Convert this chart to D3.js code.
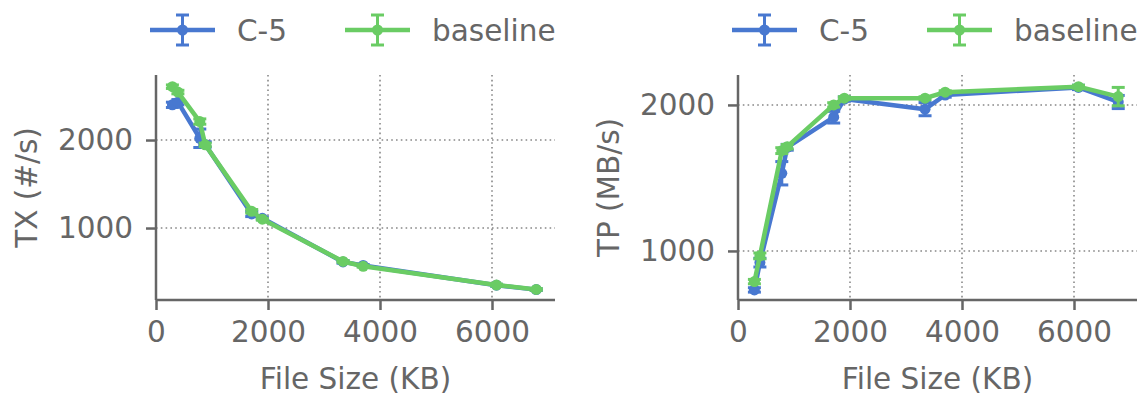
<!DOCTYPE html>
<html>
<head>
<meta charset="utf-8">
<script src="https://cdn.jsdelivr.net/npm/d3@7"></script>
<style>
  body { margin: 0; background: #fff; }
  svg text { font-family: "DejaVu Sans", sans-serif; fill: #666; }
</style>
</head>
<body>
<svg id="chart" width="1142" height="395"></svg>
<script>
// file sizes (KB)
const fileSizes = [293, 391, 782, 879, 1709, 1899, 3340, 3700, 6080, 6790];

const txC5 = [2400, 2430, 2020, 1950, 1160, 1110, 615, 575, 350, 300];
const txC5Err = [30, 30, 105, 30, 30, 15, 15, 10, 10, 10];
const txBase = [2606, 2545, 2210, 1945, 1190, 1100, 620, 565, 352, 302];
const txBaseErr = [20, 20, 30, 20, 20, 10, 10, 10, 10, 10];

const tpC5 = [733, 920, 1532, 1710, 1916, 2040, 1971, 2068, 2120, 2020];
const tpC5Err = [15, 30, 80, 20, 40, 15, 45, 15, 15, 45];
const tpBase = [790, 966, 1687, 1714, 2000, 2046, 2046, 2087, 2125, 2057];
const tpBaseErr = [15, 20, 20, 15, 15, 10, 10, 10, 10, 63];

const xTicks = [0, 2000, 4000, 6000];
const txTicks = [1000, 2000];
const tpTicks = [1000, 2000];

const seriesNames = ["C-5", "baseline"];
const colors = ["#4878d0", "#6acc64"];

const svg = d3.select("#chart");
const fontSize = 29.5;
const axisColor = "#666";

function drawPanel(opts) {
  const { left, right, top, bottom, yDomain, yTicks, yLabel, series, legendX } = opts;

  const x = d3.scaleLinear().domain([0, 7125]).range([left, right]);
  const y = d3.scaleLinear().domain(yDomain).range([bottom, top]);

  const g = svg.append("g");

  // grid
  g.selectAll(".gx").data(xTicks.filter(t => t > 0)).enter().append("line")
    .attr("x1", d => x(d)).attr("x2", d => x(d))
    .attr("y1", top).attr("y2", bottom)
    .attr("stroke", "#888").attr("stroke-width", 1.6)
    .attr("stroke-dasharray", "1.6,3.2");
  g.selectAll(".gy").data(yTicks).enter().append("line")
    .attr("x1", left).attr("x2", right)
    .attr("y1", d => y(d)).attr("y2", d => y(d))
    .attr("stroke", "#888").attr("stroke-width", 1.6)
    .attr("stroke-dasharray", "1.6,3.2");

  // axes
  const xAxis = g.append("g").attr("transform", `translate(0,${bottom})`)
    .call(d3.axisBottom(x).tickValues(xTicks).tickSize(10).tickPadding(11).tickFormat(d3.format("d")));
  const yAxis = g.append("g").attr("transform", `translate(${left},0)`)
    .call(d3.axisLeft(y).tickValues(yTicks).tickSize(10).tickPadding(13).tickFormat(d3.format("d")));
  [xAxis, yAxis].forEach(a => {
    a.select(".domain").attr("stroke", axisColor).attr("stroke-width", 2.5)
      .attr("d", a === xAxis ? `M${left},0H${right}` : `M0,${top}V${bottom}`);
    a.selectAll(".tick line").attr("stroke", axisColor).attr("stroke-width", 2.5);
    a.selectAll(".tick text").style("font-size", fontSize + "px").attr("fill", axisColor)
      .style("font-family", "DejaVu Sans");
  });

  // axis labels
  g.append("text").attr("x", (left + right) / 2).attr("y", 389)
    .attr("text-anchor", "middle").style("font-size", fontSize + "px").text("File Size (KB)");
  g.append("text")
    .attr("transform", `translate(${left - 129},${(top + bottom) / 2}) rotate(-90)`)
    .attr("text-anchor", "middle").attr("dominant-baseline", "central")
    .style("font-size", fontSize + "px").text(yLabel);

  // series
  const line = d3.line().x(d => x(d.x)).y(d => y(d.y));
  series.forEach((s, si) => {
    const pts = fileSizes.map((fx, i) => ({ x: fx, y: s.values[i], e: s.errs[i] }));
    const sg = g.append("g");
    sg.append("path").datum(pts).attr("d", line)
      .attr("fill", "none").attr("stroke", colors[si]).attr("stroke-width", 4.5)
      .attr("stroke-linejoin", "round");
    sg.selectAll(".eb").data(pts).enter().append("line")
      .attr("x1", d => x(d.x)).attr("x2", d => x(d.x))
      .attr("y1", d => y(d.y - d.e)).attr("y2", d => y(d.y + d.e))
      .attr("stroke", colors[si]).attr("stroke-width", 3);
    ["lo", "hi"].forEach(k => {
      sg.selectAll(".cap" + k).data(pts).enter().append("line")
        .attr("x1", d => x(d.x) - 6.5).attr("x2", d => x(d.x) + 6.5)
        .attr("y1", d => y(k === "lo" ? d.y - d.e : d.y + d.e))
        .attr("y2", d => y(k === "lo" ? d.y - d.e : d.y + d.e))
        .attr("stroke", colors[si]).attr("stroke-width", 3);
    });
    sg.selectAll(".pt").data(pts).enter().append("circle")
      .attr("cx", d => x(d.x)).attr("cy", d => y(d.y)).attr("r", 5.5)
      .attr("fill", colors[si]);
  });

  // legend
  seriesNames.forEach((name, i) => {
    const lx = legendX + i * 195;
    const ly = 30;
    const lg = svg.append("g");
    lg.append("line").attr("x1", lx).attr("x2", lx + 65).attr("y1", ly).attr("y2", ly)
      .attr("stroke", colors[i]).attr("stroke-width", 4.5);
    lg.append("line").attr("x1", lx + 32.5).attr("x2", lx + 32.5).attr("y1", ly - 15).attr("y2", ly + 15)
      .attr("stroke", colors[i]).attr("stroke-width", 3);
    [ly - 15, ly + 15].forEach(cy => {
      lg.append("line").attr("x1", lx + 26).attr("x2", lx + 39).attr("y1", cy).attr("y2", cy)
        .attr("stroke", colors[i]).attr("stroke-width", 3);
    });
    lg.append("circle").attr("cx", lx + 32.5).attr("cy", ly).attr("r", 5.5).attr("fill", colors[i]);
    lg.append("text").attr("x", lx + 87).attr("y", ly + 11).style("font-size", fontSize + "px").text(name);
  });
}

drawPanel({
  left: 156, right: 555, top: 75, bottom: 300,
  yDomain: [182, 2739], yTicks: txTicks, yLabel: "TX (#/s)",
  series: [{ values: txC5, errs: txC5Err }, { values: txBase, errs: txBaseErr }],
  legendX: 150
});

drawPanel({
  left: 738, right: 1137, top: 75, bottom: 300,
  yDomain: [664, 2205], yTicks: tpTicks, yLabel: "TP (MB/s)",
  series: [{ values: tpC5, errs: tpC5Err }, { values: tpBase, errs: tpBaseErr }],
  legendX: 732
});
</script>
</body>
</html>
